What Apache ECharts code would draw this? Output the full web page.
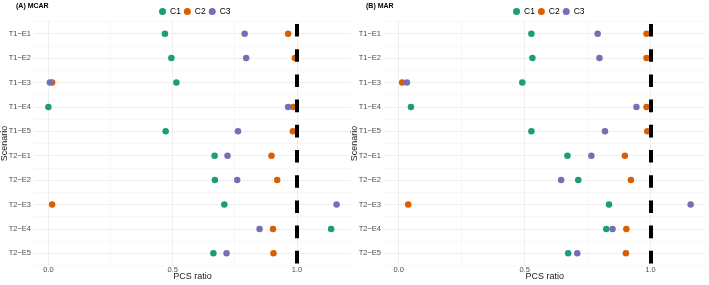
<!doctype html>
<html lang="en">
<head>
<meta charset="UTF-8">
<title>PCS ratio</title>
<script src="https://cdn.jsdelivr.net/npm/echarts@6/dist/echarts.min.js"></script>
<style>
    html, body { margin: 0; padding: 0; background: #fff; }
    #main { width: 709px; height: 285px; }
</style>
</head>
<body>
<div id="main"></div>
<script>
var scenarios = ['T1−E1', 'T1−E2', 'T1−E3', 'T1−E4', 'T1−E5', 'T2−E1', 'T2−E2', 'T2−E3', 'T2−E4', 'T2−E5'];
var groups = ['C1', 'C2', 'C3'];
var colors = ['#1B9E77', '#D95F02', '#7570B3'];
var xTicks = [0, 0.5, 1];
var xMinor = [0.25, 0.75];
var refLine = 1;

// (A) MCAR
var mcarC1 = [0.469, 0.495, 0.515, 0.000, 0.472, 0.669, 0.670, 0.708, 1.138, 0.664];
var mcarC2 = [0.965, 0.992, 0.015, 0.985, 0.984, 0.898, 0.921, 0.015, 0.904, 0.906];
var mcarC3 = [0.790, 0.796, 0.006, 0.965, 0.763, 0.721, 0.760, 1.160, 0.850, 0.717];
// (B) MAR
var marC1 = [0.527, 0.531, 0.491, 0.049, 0.527, 0.670, 0.713, 0.835, 0.824, 0.673];
var marC2 = [0.984, 0.984, 0.014, 0.984, 0.987, 0.898, 0.922, 0.038, 0.904, 0.902];
var marC3 = [0.790, 0.797, 0.033, 0.944, 0.819, 0.765, 0.645, 1.159, 0.849, 0.709];

var font = 'Liberation Sans';
var xMin = -0.058, xMax = 1.218;

var panels = [
    {title: '(A) MCAR', values: [mcarC1, mcarC2, mcarC3]},
    {title: '(B) MAR', values: [marC1, marC2, marC3]}
];
var grids = [
    {left: 34, top: 21.5, width: 317, height: 244, outerBoundsMode: 'none', containLabel: false},
    {left: 384, top: 21.5, width: 321.5, height: 244, outerBoundsMode: 'none', containLabel: false}
];

var titleStyle = {fontSize: 7, fontWeight: 'bold', color: '#000', fontFamily: font};
var legendBase = {data: groups, top: 7, icon: 'circle', itemWidth: 7, itemHeight: 7, itemGap: 3, padding: 0,
    textStyle: {fontSize: 8.5, color: '#000', padding: [0, 0, 0, -1]}};

var option = {
    backgroundColor: '#fff',
    animation: false,
    textStyle: {fontFamily: font},
    title: [
        {text: panels[0].title, left: 16, top: 3, padding: 0, textStyle: titleStyle},
        {text: panels[1].title, left: 366, top: 3, padding: 0, textStyle: titleStyle}
    ],
    legend: [
        Object.assign({left: 159}, legendBase),
        Object.assign({left: 513}, legendBase)
    ],
    color: colors,
    grid: grids,
    xAxis: [],
    yAxis: [],
    series: []
};

panels.forEach(function (p, gi) {
    option.xAxis.push({
        type: 'value', gridIndex: gi, min: xMin, max: xMax,
        axisLine: {show: false}, axisTick: {show: false}, splitLine: {show: false},
        axisLabel: {customValues: xTicks, fontSize: 7.5, color: '#4d4d4d', margin: 0,
            formatter: function (v) { return v.toFixed(1); }},
        name: 'PCS ratio', nameLocation: 'middle', nameGap: 7, nameMoveOverlap: false,
        nameTextStyle: {fontSize: 9, color: '#1a1a1a', verticalAlign: 'top'}
    });
    option.yAxis.push({
        type: 'category', gridIndex: gi, data: scenarios, inverse: true,
        axisLine: {show: false}, axisTick: {show: false},
        axisLabel: {fontSize: 7.5, color: '#4d4d4d', margin: 3},
        splitLine: {show: true, lineStyle: {color: '#f4f4f4', width: 0.6}},
        name: 'Scenario', nameLocation: 'middle', nameGap: 24.5, nameRotate: 90, nameMoveOverlap: false,
        nameTextStyle: {fontSize: 9, color: '#1a1a1a'}
    });
    // background grid lines
    option.series.push({
        type: 'scatter', xAxisIndex: gi, yAxisIndex: gi, data: [], z: 0, silent: true,
        markLine: {
            silent: true, symbol: 'none', label: {show: false}, animation: false, z: 0,
            data: scenarios.map(function (s) { return {yAxis: s, lineStyle: {color: '#ebebeb', width: 0.8, type: 'solid'}}; })
                .concat(xTicks.map(function (v) { return {xAxis: v, lineStyle: {color: '#ebebeb', width: 0.8, type: 'solid'}}; }))
                .concat(xMinor.map(function (v) { return {xAxis: v, lineStyle: {color: '#f4f4f4', width: 0.6, type: 'solid'}}; }))
        }
    });
    groups.forEach(function (g, si) {
        option.series.push({
            name: g, type: 'scatter', xAxisIndex: gi, yAxisIndex: gi, z: 2,
            symbol: 'circle', symbolSize: 6.5,
            itemStyle: {color: colors[si], opacity: 1},
            data: p.values[si].map(function (v, i) { return [v, scenarios[i]]; })
        });
    });
    // reference line at ratio 1
    option.series.push({
        type: 'scatter', xAxisIndex: gi, yAxisIndex: gi, data: [], z: 5, silent: true,
        markLine: {
            silent: true, symbol: 'none', label: {show: false}, animation: false, z: 5,
            lineStyle: {color: '#000', width: 4, type: [12.6, 12.6], dashOffset: 22.7},
            data: [{xAxis: refLine}]
        }
    });
});

var chart = echarts.init(document.getElementById('main'));
chart.setOption(option);
</script>
</body>
</html>
